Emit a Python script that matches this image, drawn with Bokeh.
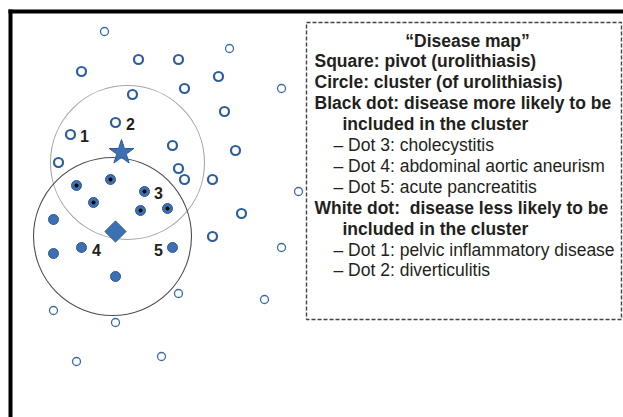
import numpy as np
from bokeh.plotting import figure
from bokeh.models import Range1d, ColumnDataSource
from bokeh.core.properties import value
from bokeh.embed import file_html
from bokeh.resources import INLINE

# ---- data (map coordinates) ----
# white dots: diseases less likely to be in the cluster (bold outline)
white_x = [138, 178, 81, 218, 184, 132, 224, 115, 70, 172, 235, 58, 178, 184, 212, 241, 212]
white_y = [59, 59, 71, 76, 88, 94, 111, 122, 134, 145, 150, 162, 168, 179, 179, 213, 236]
# white dots, faint outline
faint_x = [104, 229, 281, 298, 281, 178, 264, 53, 115, 161, 76]
faint_y = [31, 48, 88, 191, 247, 293, 299, 310, 322, 356, 361]
# black dots: diseases more likely to be in the cluster
black_x = [76, 110, 144, 93, 140, 167]
black_y = [185, 179, 191, 202, 210, 208]
# other filled cluster dots
blue_x = [53, 53, 81, 172, 115]
blue_y = [219, 253, 247, 247, 276]
# numbered dots labels
label_text = ["1", "2", "3", "4", "5"]
label_x = [84, 130, 158, 96, 158]
label_y = [135, 123, 192, 249, 249]
# pivot (square) and star
pivot_x, pivot_y = [115], [231]
star_x, star_y = [121], [152]
# clusters
cluster_x = [127, 112]
cluster_y = [162, 236]
cluster_r = [77, 79]
cluster_color = ["#a6a6a6", "#4d4d4d"]

legend_lines = [
    "\u201cDisease map\u201d",
    "Square: pivot (urolithiasis)",
    "Circle: cluster (of urolithiasis)",
    "Black dot: disease more likely to be",
    "included in the cluster",
    "\u2013 Dot 3: cholecystitis",
    "\u2013 Dot 4: abdominal aortic aneurism",
    "\u2013 Dot 5: acute pancreatitis",
    "White dot:\u00a0 disease less likely to be",
    "included in the cluster",
    "\u2013 Dot 1: pelvic inflammatory disease",
    "\u2013 Dot 2: diverticulitis",
]
legend_bold = [True, True, True, True, True, False, False, False, True, True, False, False]
legend_indent = ["center", "head", "head", "head", "wrap", "item", "item", "item", "head", "wrap", "item", "item"]

BLUE = "#3d70b2"
BLUE_DARK = "#2c5a94"
FONT = value("Liberation Sans")

p = figure(width=623, height=417, output_backend="svg", toolbar_location=None,
           x_range=Range1d(0, 623), y_range=Range1d(417, 0),
           x_axis_location=None, y_axis_location=None, min_border=0,
           outline_line_color=None)
p.grid.visible = False

# frame (top and left thick lines)
p.segment(x0=[8, 10], y0=[11, 9], x1=[623, 10], y1=[11, 417],
          line_color="black", line_width=4)

# clusters
p.circle(x=cluster_x, y=cluster_y, radius=cluster_r, fill_color=None,
         line_color=cluster_color, line_width=1.1)

# dots
p.scatter(white_x, white_y, size=9, marker="circle", fill_color="white",
          line_color="#2d5f9e", line_width=2.2)
p.scatter(faint_x, faint_y, size=8, marker="circle", fill_color="white",
          line_color="#3a6aa8", line_width=1.3)
p.scatter(blue_x, blue_y, size=10, marker="circle", fill_color=BLUE,
          line_color=BLUE_DARK, line_width=1)
p.scatter(black_x, black_y, size=10, marker="circle", fill_color=BLUE,
          line_color=BLUE_DARK, line_width=1)
p.scatter(black_x, black_y, size=4, marker="circle", fill_color="black",
          line_color=None)

# pivot and star
p.scatter(pivot_x, pivot_y, size=15, marker="square", angle=np.pi / 4,
          fill_color=BLUE, line_color=BLUE_DARK, line_width=1)
p.scatter(star_x, star_y, size=26, marker="star", fill_color=BLUE,
          line_color=BLUE_DARK, line_width=1)

# numbers
p.text(label_x, label_y, text=label_text, text_font=FONT, text_font_size="16px",
       text_font_style="bold", text_color="#231f20", text_align="center",
       text_baseline="middle")

# legend box
BOX_L, BOX_R, BOX_T, BOX_B = 306, 621, 22, 319
p.quad(left=[BOX_L], right=[BOX_R], top=[BOX_T], bottom=[BOX_B], fill_color=None,
       line_color="#444444", line_width=1.4, line_dash="4 2")

x_for = {"center": 467, "head": 314, "wrap": 342, "item": 333}
line_y0, line_step = 40, 20.9
lx = [x_for[ind] for ind in legend_indent]
ly = [line_y0 + i * line_step for i in range(len(legend_lines))]

def pick(cond):
    idx = [i for i in range(len(legend_lines)) if cond(i)]
    return ColumnDataSource(dict(x=[lx[i] for i in idx], y=[ly[i] for i in idx],
                                 t=[legend_lines[i] for i in idx]))

src_c = pick(lambda i: legend_indent[i] == "center")
src_b = pick(lambda i: legend_bold[i] and legend_indent[i] != "center")
src_n = pick(lambda i: not legend_bold[i])

common = dict(text_font=FONT, text_font_size="17.5px", text_color="#231f20",
              text_baseline="middle")
p.text("x", "y", text="t", source=src_c, text_font_style="bold", text_align="center", **common)
p.text("x", "y", text="t", source=src_b, text_font_style="bold", text_align="left", **common)
p.text("x", "y", text="t", source=src_n, text_font_style="normal", text_align="left", **common)

open("out.html", "w").write(file_html(p, INLINE))
